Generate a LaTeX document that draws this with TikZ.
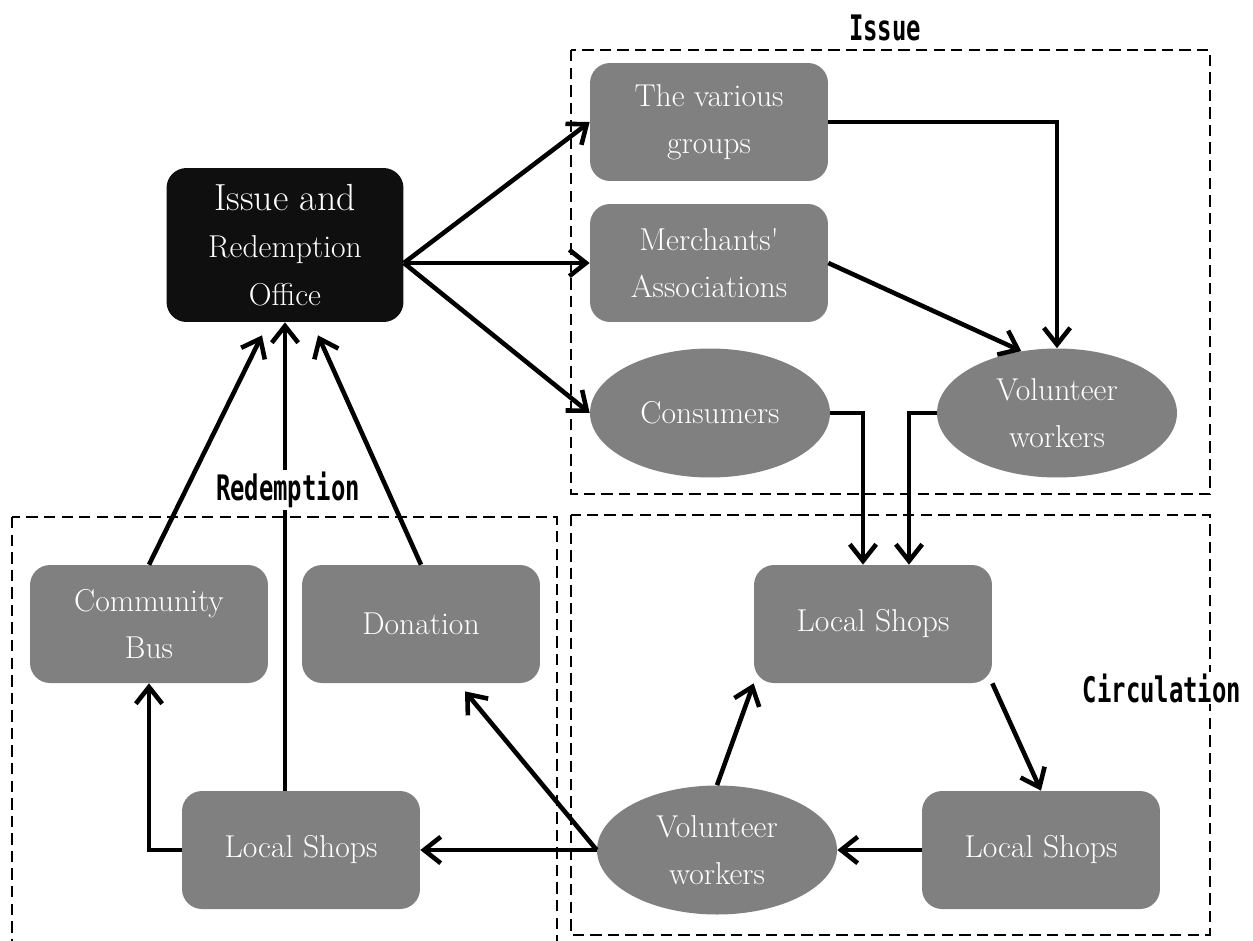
\documentclass[tikz,border=0pt]{standalone}
\usepackage{fontspec}
\newfontfamily\grpfont[FakeStretch=0.68]{DejaVu Sans Mono}
\usetikzlibrary{shapes.geometric, arrows.meta, positioning, calc}

\tikzset{
    box/.style={fill=black!50, rounded corners=0.4cm, minimum width=4.76cm,
        minimum height=2.36cm, text=white, align=center,
        font=\fontsize{18}{27}\selectfont},
    oval/.style={ellipse, fill=black!50, minimum width=4.8cm,
        minimum height=2.58cm, text=white, align=center,
        font=\fontsize{18}{27}\selectfont},
    arr/.style={line width=2.6pt, -{Straight Barb[length=9.5pt,width=15pt]}},
    frame/.style={line width=0.8pt, dash pattern=on 6.5pt off 3.5pt},
    grplabel/.style={font=\grpfont\bfseries\fontsize{20}{22}\selectfont,
        inner xsep=0.15cm, inner ysep=1pt}
}

\begin{document}
\begin{tikzpicture}[x=0.02cm, y=-0.02cm]
    \useasboundingbox (0,0) rectangle (1253,940);

    % dashed group frames
    \draw[frame] (571,50) rectangle (1210,494);
    \draw[frame] (571,515) rectangle (1210,935);
    \draw[frame] (12,517) rectangle (557,960);

    % nodes
    \node[box, fill=black!94, minimum width=4.74cm, minimum height=3.08cm]
        (office) at (285,245)
        {{\fontsize{21.5}{29}\selectfont Issue and}\\ Redemption\\ Office};
    \node[box] (grp) at (709,122) {The various\\ groups};
    \node[box] (merch) at (709,263) {Merchants\textquotesingle\\ Associations};
    \node[oval] (cons) at (710,413) {Consumers};
    \node[oval] (vol1) at (1057,413) {Volunteer\\ workers};

    \node[box] (shop1) at (873,624) {Local Shops};
    \node[box] (shop2) at (1041,850) {Local Shops};
    \node[oval] (vol2) at (717,850) {Volunteer\\ workers};

    \node[box] (shop3) at (301,850) {Local Shops};
    \node[box] (cbus) at (149,624) {Community\\ Bus};
    \node[box] (don) at (421,624) {Donation};

    % issue
    \coordinate (fan) at (office.east |- merch.west);
    \draw[arr] (fan) -- (grp.west);
    \draw[arr] (fan) -- (merch.west);
    \draw[arr] (fan) -- (cons.west);
    \draw[arr] (grp.east) -| (vol1.north);
    \draw[arr] (merch.east) -- (vol1.120);
    \draw[arr] (cons.east) -| ($(shop1.north)+(-10,0)$);
    \draw[arr] (vol1.west) -| ($(shop1.north)+(36,0)$);

    % circulation
    \draw[arr] (shop1.south east) -- (shop2.north);
    \draw[arr] (shop2.west) -- (vol2.east);
    \draw[arr] (vol2.north) -- (shop1.south west);

    % redemption
    \draw[arr] (vol2.west) -- (shop3.east);
    \draw[arr] (vol2.west) -- ($(don.south)+(44,8)$);
    \draw[arr] (shop3.west) -| (cbus.south);
    \draw[arr] (office.south |- shop3.north) -- (office.south);
    \draw[arr] (cbus.north) -- ($(office.south)+(-23,13)$);
    \draw[arr] (don.north) -- ($(office.south)+(33,13)$);

    % frame labels
    \node[grplabel] (lissue) at (885,28) {Issue};
    \node[grplabel, fill=white] (lred) at (288,490) {Redemption};
    \node[grplabel, fill=white, inner xsep=2pt] (lcirc) at (1162,688) {Circulation};
\end{tikzpicture}
\end{document}
